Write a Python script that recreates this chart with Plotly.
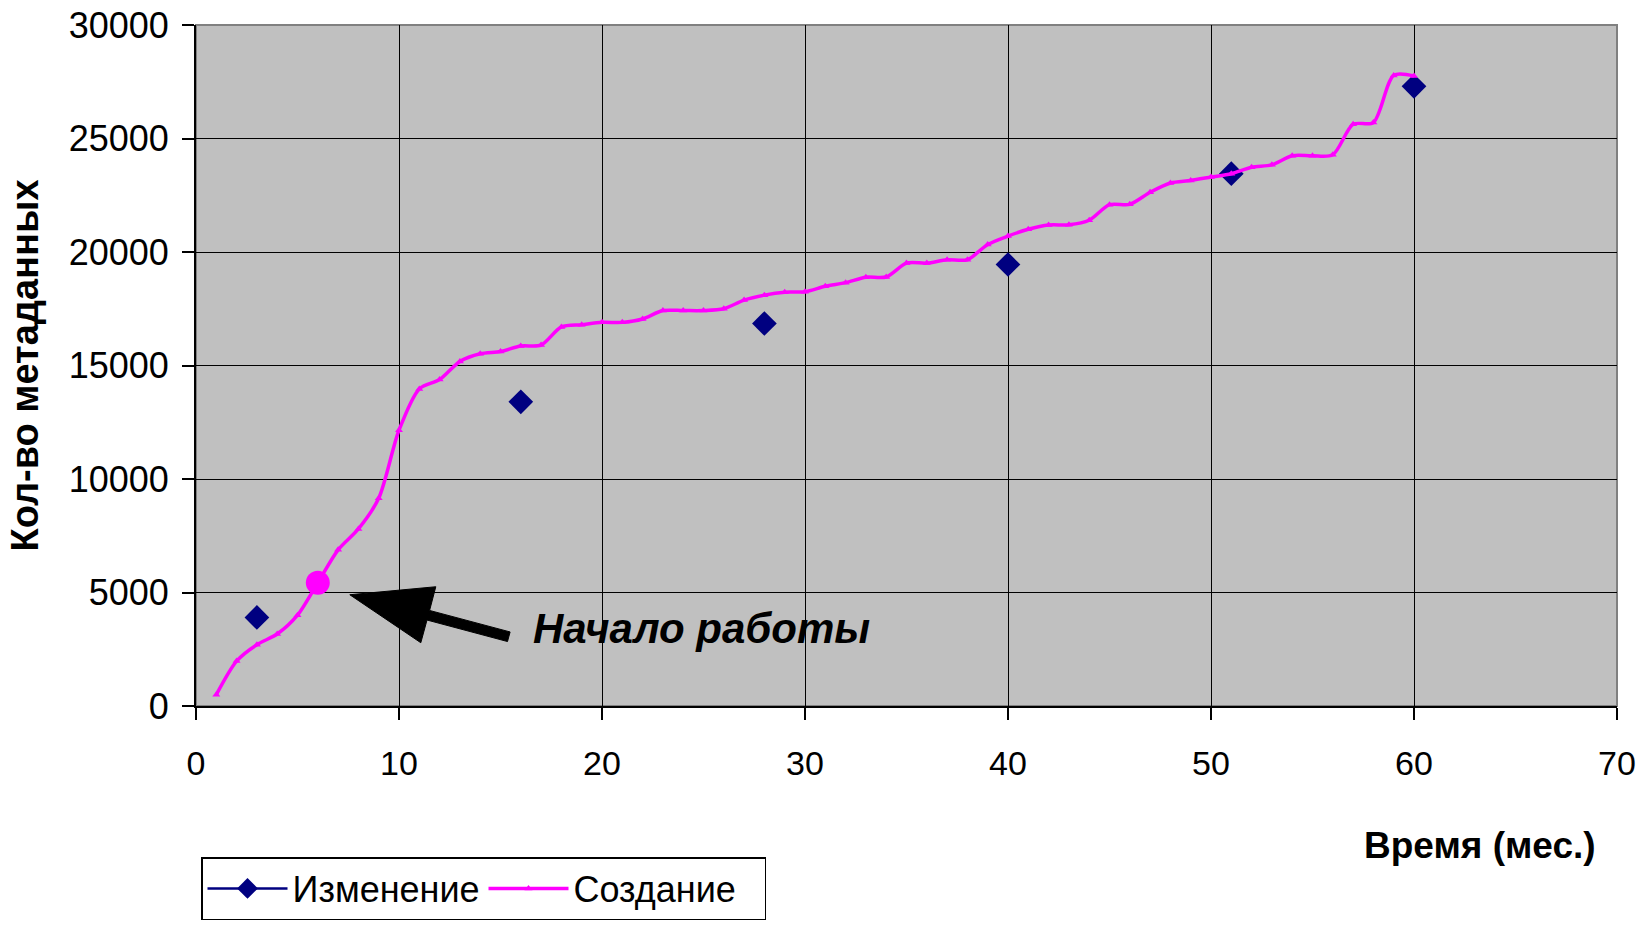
import plotly.graph_objects as go

# ---- data ----
months = list(range(1, 61))
creation = [500, 1980, 2700, 3170, 4000, 5430, 6880, 7800, 9150, 12150,
            13970, 14380, 15180, 15520, 15620, 15860, 15900, 16700, 16800, 16900,
            16900, 17050, 17420, 17420, 17420, 17500, 17880, 18100, 18230, 18250,
            18490, 18650, 18890, 18900, 19510, 19510, 19660, 19660, 20330, 20700,
            21000, 21190, 21200, 21400, 22085, 22100, 22630, 23040, 23150, 23300,
            23450, 23735, 23840, 24240, 24240, 24285, 25625, 25700, 27780, 27750]

change_months = [3, 16, 28, 40, 51, 60]
change_values = [3900, 13400, 16850, 19450, 23450, 27300]

start_month = 6
start_value = creation[months.index(start_month)]

x_ticks = [0, 10, 20, 30, 40, 50, 60, 70]
y_ticks = [0, 5000, 10000, 15000, 20000, 25000, 30000]

series_names = ["Изменение", "Создание"]
x_title = "Время (мес.)"
y_title = "Кол-во метаданных"
note_text = "Начало работы"

FONT = "Liberation Sans, Arial, sans-serif"

# interleave gaps so the "Изменение" series shows only markers but keeps a line in legend
cx, cy = [], []
for m, v in zip(change_months, change_values):
    cx += [m, None]
    cy += [v, None]

fig = go.Figure()

fig.add_trace(go.Scatter(
    x=cx, y=cy, name=series_names[0], mode="lines+markers",
    line=dict(color="#000080", width=2.5),
    marker=dict(symbol="diamond", size=19, color="#000080"),
    connectgaps=False,
))

fig.add_trace(go.Scatter(
    x=months, y=creation, name=series_names[1], mode="lines+markers",
    line=dict(color="#FF00FF", width=3.5, shape="spline", smoothing=0.8),
    marker=dict(symbol="triangle-up", size=7, color="#FF00FF"),
))

fig.add_trace(go.Scatter(
    x=[start_month], y=[start_value], mode="markers", showlegend=False,
    marker=dict(symbol="circle", size=24, color="#FF00FF"),
    hoverinfo="skip",
))

# arrow pointing at the start point (pixel-sized polygon anchored at the point)
arrow_path = ("M32,-12 L118,-4 L111.8,-27.7 L192.3,-49.2 L189.7,-58.8 "
              "L109.2,-37.3 L103,-60 Z")
fig.add_shape(type="path", xref="x", yref="y",
              xsizemode="pixel", ysizemode="pixel",
              xanchor=start_month, yanchor=start_value,
              path=arrow_path, fillcolor="black", line=dict(color="black", width=1))

fig.add_annotation(x=16.5, y=3430, xref="x", yref="y", text=f"<b><i>{note_text}</i></b>",
                   showarrow=False, xanchor="left", yanchor="middle",
                   font=dict(family=FONT, size=42, color="black"))

W, H = 1640, 925
ml, mt = 196, 25
pw, ph = 1421, 681
mr, mb = W - ml - pw, H - mt - ph

def px2paper(px, py):
    return (px - ml) / pw, (H - mb - py) / ph

# x axis title (right-aligned in reference)
tx, ty = px2paper(1598, 845)
fig.add_annotation(x=tx, y=ty, text=f"<b>{x_title}</b>", showarrow=False,
                   xref="paper", yref="paper", xanchor="right", yanchor="middle",
                   font=dict(family=FONT, size=37, color="black"))

# plot-area border (grey)
fig.add_shape(type="rect", xref="paper", yref="paper", x0=0, x1=1, y0=0, y1=1,
              line=dict(color="#808080", width=2), layer="below")

lx, ly = px2paper(201, 857)
fig.update_layout(
    width=W, height=H,
    margin=dict(l=ml, r=mr, t=mt, b=mb, autoexpand=False),
    paper_bgcolor="white", plot_bgcolor="#C0C0C0",
    font=dict(family=FONT, size=36, color="black"),
    showlegend=True,
    legend=dict(orientation="h", x=lx, y=ly,
                xanchor="left", yanchor="top",
                bgcolor="white", bordercolor="black", borderwidth=1.5,
                font=dict(family=FONT, size=36, color="black"),
                itemwidth=80,
                entrywidth=186, entrywidthmode="pixels",
                itemsizing="trace", tracegroupgap=0),
)

fig.update_xaxes(range=[0, 70], tickvals=x_ticks, ticktext=[str(t) for t in x_ticks],
                 showgrid=True, gridcolor="black", gridwidth=1.3,
                 showline=True, linecolor="black", linewidth=2,
                 ticks="outside", ticklen=12, tickcolor="black", tickwidth=1.5,
                 ticklabelstandoff=14, ticklabeloverflow="allow",
                 tickfont=dict(family=FONT, size=34, color="black"),
                 zeroline=False)

fig.update_yaxes(range=[0, 30000], tickvals=y_ticks, ticktext=[str(t) for t in y_ticks],
                 showgrid=True, gridcolor="black", gridwidth=1.3,
                 showline=True, linecolor="black", linewidth=2,
                 ticks="outside", ticklen=12, tickcolor="black", tickwidth=1.5,
                 ticklabelstandoff=6, ticklabeloverflow="allow",
                 tickfont=dict(family=FONT, size=36, color="black"),
                 zeroline=False,
                 title=dict(text=f"<b>{y_title}</b>", standoff=18,
                            font=dict(family=FONT, size=38, color="black")))

fig.write_html("out.html",
               config={"displayModeBar": False},
               post_script="document.body.style.margin='0';"
                           "document.body.style.overflow='hidden';")
